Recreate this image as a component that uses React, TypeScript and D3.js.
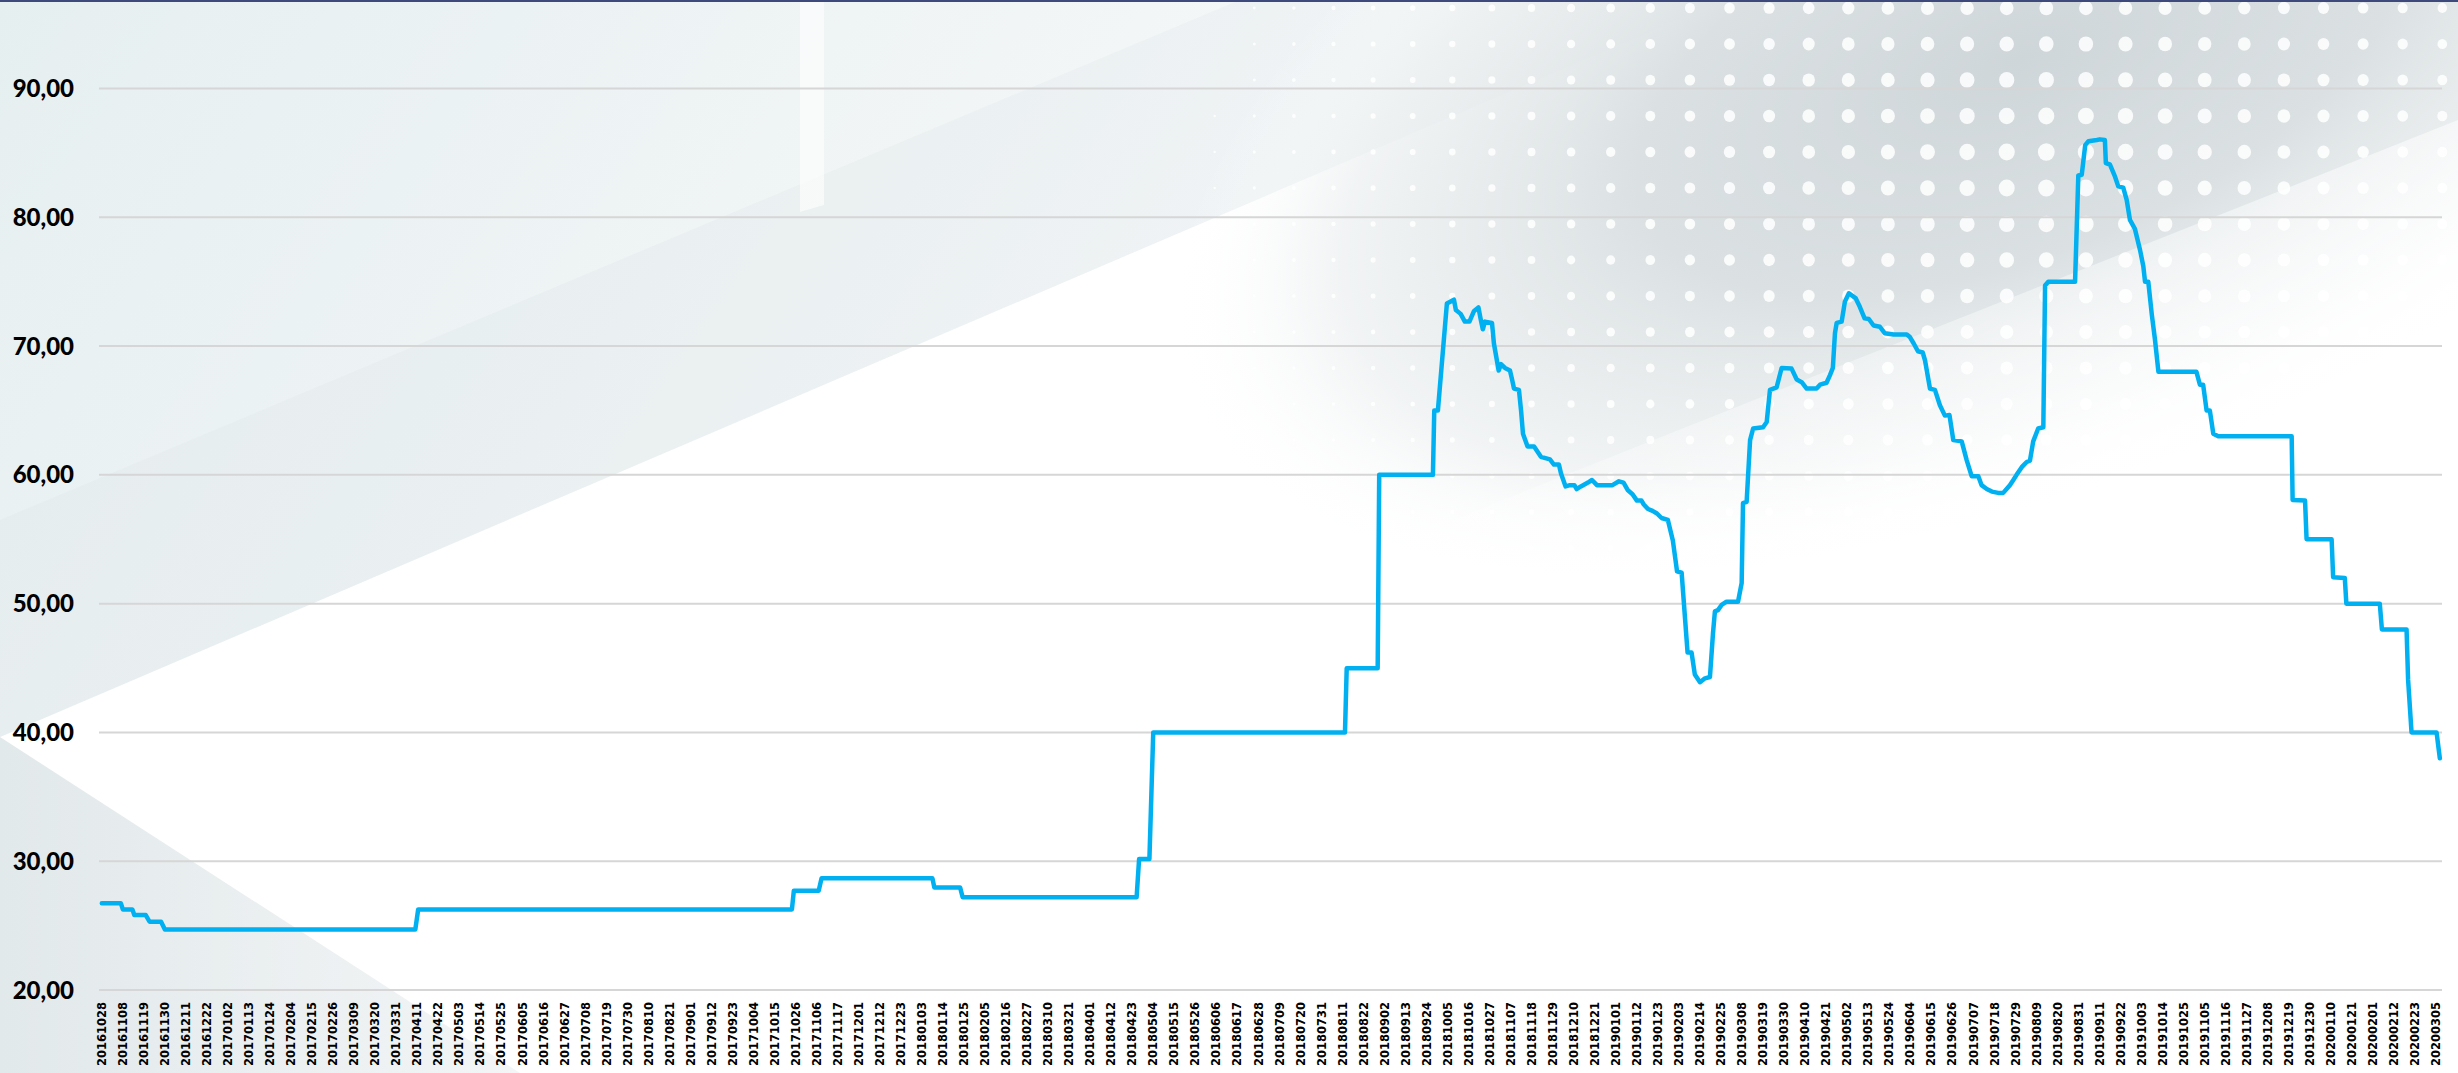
import { useEffect, useRef } from 'react';
import * as d3 from 'd3';

// value axis ticks
const yTicks = [20, 30, 40, 50, 60, 70, 80, 90];

// category labels, one every 11 categories
const dateLabels = [
  '20161028', '20161108', '20161119', '20161130', '20161211', '20161222',
  '20170102', '20170113', '20170124', '20170204', '20170215', '20170226', '20170309', '20170320',
  '20170331', '20170411', '20170422', '20170503', '20170514', '20170525', '20170605', '20170616',
  '20170627', '20170708', '20170719', '20170730', '20170810', '20170821', '20170901', '20170912',
  '20170923', '20171004', '20171015', '20171026', '20171106', '20171117', '20171201', '20171212',
  '20171223',
  '20180103', '20180114', '20180125', '20180205', '20180216', '20180227', '20180310', '20180321',
  '20180401', '20180412', '20180423', '20180504', '20180515', '20180526', '20180606', '20180617',
  '20180628', '20180709', '20180720', '20180731', '20180811', '20180822', '20180902', '20180913',
  '20180924', '20181005', '20181016', '20181027', '20181107', '20181118', '20181129', '20181210',
  '20181221',
  '20190101', '20190112', '20190123', '20190203', '20190214', '20190225', '20190308', '20190319',
  '20190330', '20190410', '20190421', '20190502', '20190513', '20190524', '20190604', '20190615',
  '20190626', '20190707', '20190718', '20190729', '20190809', '20190820', '20190831', '20190911',
  '20190922', '20191003', '20191014', '20191025', '20191105', '20191116', '20191127', '20191208',
  '20191219', '20191230',
  '20200110', '20200121', '20200201', '20200212', '20200223', '20200305',
];
const STEP = 11;

// price series as [category index, value]
const price: [number, number][] = [
  [0, 26.73], [10, 26.73], [11, 26.26], [16, 26.26], [17, 25.82], [23, 25.82], [25, 25.3], [31, 25.3],
  [33, 24.7], [164, 24.7], [165.5, 26.26], [361, 26.26], [362, 27.7], [375, 27.7], [376.5, 28.67],
  [434.5, 28.67], [435.5, 27.95], [449, 27.95], [450.3, 27.2], [541.3, 27.2], [542.6, 30.17],
  [548, 30.17], [550, 40], [650.3, 40], [651.2, 44.98], [667.4, 44.98], [668.2, 60], [696.3, 60],
  [697, 65], [698.9, 65], [703.6, 73.3], [707.3, 73.6], [708.3, 72.8], [710.8, 72.5], [713, 71.9],
  [715.4, 71.9], [717.7, 72.7], [720.1, 73.0], [721.4, 72.0], [722.4, 71.3], [723.5, 71.9],
  [727.2, 71.8], [728.2, 70.2], [730.7, 68.1], [731.9, 68.6], [734, 68.3], [736.6, 68.1],
  [737.7, 67.4], [738.7, 66.7], [741.3, 66.6], [742.4, 65.0], [743.4, 63.2], [745.8, 62.2],
  [749.2, 62.2], [752.8, 61.4], [757.5, 61.2], [759.6, 60.8], [762.2, 60.8], [763.3, 60.1],
  [765.7, 59.1], [768, 59.2], [770.3, 59.2], [771.5, 58.9], [773.7, 59.1], [777.4, 59.4],
  [779.5, 59.6], [782.1, 59.2], [790.2, 59.2], [793.6, 59.5], [796, 59.4], [798.3, 58.8],
  [800.7, 58.5], [803, 58.0], [805.4, 58.0], [806.6, 57.7], [808.8, 57.35], [811.2, 57.2],
  [813.5, 57.0], [815.9, 56.65], [819.2, 56.5], [821.8, 54.9], [824, 52.5], [826.4, 52.4],
  [829.5, 46.2], [831.6, 46.2], [833.3, 44.5], [836, 43.9], [838.6, 44.2], [841.2, 44.3],
  [842.8, 47.7], [843.8, 49.4], [845.4, 49.5], [847.3, 49.9], [849.9, 50.15], [855.9, 50.15],
  [857.8, 51.6], [858.5, 57.8], [860.4, 57.9], [862.2, 62.7], [863.8, 63.6], [869, 63.7],
  [870.9, 64.1], [872.6, 66.6], [876.1, 66.8], [878.7, 68.3], [883.9, 68.25], [886.6, 67.4],
  [889.2, 67.2], [891.8, 66.7], [897, 66.7], [898.8, 67.0], [902.2, 67.15], [904, 67.75],
  [905.5, 68.3], [906.6, 71.0], [907.5, 71.8], [910.1, 71.9], [911.8, 73.45], [913.9, 74.1],
  [917.5, 73.7], [919.6, 73.05], [922.1, 72.15], [924.3, 72.1], [926.8, 71.6], [930.1, 71.5],
  [932.6, 71.0], [937.3, 70.9], [944.2, 70.9], [945.8, 70.7], [947.8, 70.2], [950, 69.6],
  [952.5, 69.5], [953.7, 68.9], [956.3, 66.7], [958.9, 66.6], [961.5, 65.4], [964.1, 64.6],
  [966.5, 64.65], [968.5, 62.7], [972.9, 62.6], [975.5, 61.15], [978.1, 59.9], [981.6, 59.9],
  [983.3, 59.2], [986, 58.9], [988.7, 58.7], [992, 58.6], [994.6, 58.6], [998.1, 59.2],
  [999.9, 59.6], [1001.6, 60.0], [1004.3, 60.6], [1006.9, 61.0], [1008.6, 61.1], [1010.3, 62.6],
  [1012.9, 63.6], [1015.6, 63.7], [1016.5, 74.7], [1018.2, 75.0], [1032.2, 75.0], [1033.9, 83.25],
  [1035.7, 83.3], [1037.5, 85.6], [1039.2, 85.9], [1043.6, 86.0], [1045.2, 86.05], [1047.8, 86.0],
  [1048.3, 84.2], [1050.4, 84.1], [1053.1, 83.15], [1054.8, 82.4], [1057.4, 82.3], [1059.2, 81.35],
  [1060.9, 79.8], [1063.5, 79.1], [1066.2, 77.45], [1067.9, 76.2], [1068.8, 75.0], [1070.5, 75.0],
  [1072.3, 72.5], [1074, 70.5], [1075.8, 68.0], [1095.7, 68.0], [1097.5, 67.0], [1099.2, 67.0],
  [1101, 65.0], [1102.7, 65.0], [1104.5, 63.2], [1107.1, 63.0], [1145.5, 63.0], [1146, 58.05],
  [1152.5, 58.0], [1153.3, 55.0], [1166.4, 55.0], [1167.2, 52.05], [1173.3, 52.0], [1174.1, 50.0],
  [1191.6, 50.0], [1192.7, 48.0], [1205.6, 48.0], [1206.4, 44.1], [1208.2, 40.0], [1221.3, 40.0],
  [1223, 38.0],
];

export default function App() {
  const svgRef = useRef(null);

  useEffect(() => {
    if (!svgRef.current) return;
    const width = 2458;
    const height = 1073;
    const svg = d3.select(svgRef.current);
    svg.selectAll('*').remove();

    const x = d3.scaleLinear()
      .domain([0, (dateLabels.length - 1) * STEP])
      .range([101.8, 2436]);
    const y = d3.scaleLinear()
      .domain([20, 90])
      .range([990, 88.5]);

    // background decoration (soft slide-style artwork)
    const defs = svg.append('defs');
    const teal = defs.append('linearGradient').attr('id', 'teal')
      .attr('x1', 0).attr('y1', 0).attr('x2', 1).attr('y2', 0.3);
    teal.append('stop').attr('offset', 0).attr('stop-color', '#e6eff0');
    teal.append('stop').attr('offset', 0.55).attr('stop-color', '#f1f5f6');
    teal.append('stop').attr('offset', 1).attr('stop-color', '#fbfcfc');

    const corner = defs.append('linearGradient').attr('id', 'corner')
      .attr('x1', 0).attr('y1', 0).attr('x2', 1).attr('y2', 0);
    corner.append('stop').attr('offset', 0).attr('stop-color', '#e2e9eb');
    corner.append('stop').attr('offset', 1).attr('stop-color', '#f3f5f6');

    const grey = defs.append('radialGradient').attr('id', 'grey')
      .attr('gradientUnits', 'userSpaceOnUse')
      .attr('cx', 0).attr('cy', 0).attr('r', 1)
      .attr('gradientTransform', 'translate(2020,60) rotate(-22) scale(900,430)');
    grey.append('stop').attr('offset', 0).attr('stop-color', '#cfd6d9');
    grey.append('stop').attr('offset', 0.45).attr('stop-color', '#dbe1e3');
    grey.append('stop').attr('offset', 0.8).attr('stop-color', '#eef1f2').attr('stop-opacity', 0.8);
    grey.append('stop').attr('offset', 1).attr('stop-color', '#ffffff').attr('stop-opacity', 0);

    const streak = defs.append('linearGradient').attr('id', 'streak')
      .attr('gradientUnits', 'userSpaceOnUse')
      .attr('x1', 1700).attr('y1', 200).attr('x2', 1900).attr('y2', 560);
    streak.append('stop').attr('offset', 0).attr('stop-color', '#ffffff').attr('stop-opacity', 0);
    streak.append('stop').attr('offset', 1).attr('stop-color', '#ffffff').attr('stop-opacity', 0.75);

    const bg = svg.append('g');
    bg.append('rect').attr('width', width).attr('height', height).attr('fill', '#ffffff');
    bg.append('path').attr('d', 'M0,0 L1724,0 L0,737 Z').attr('fill', 'url(#teal)');
    bg.append('path').attr('d', 'M0,520 L1240,0 L1724,0 L0,737 Z')
      .attr('fill', '#dbe5e7').attr('opacity', 0.25);
    bg.append('path').attr('d', 'M0,737 L0,1073 L520,1073 Z').attr('fill', 'url(#corner)');
    bg.append('path').attr('d', 'M800,0 L824,0 L824,205 L800,212 Z')
      .attr('fill', '#ffffff').attr('opacity', 0.6);
    bg.append('rect').attr('width', width).attr('height', height).attr('fill', 'url(#grey)');
    bg.append('path').attr('d', 'M1000,1073 L1000,700 L2458,120 L2458,1073 Z')
      .attr('fill', 'url(#streak)');

    // dot grid, top right
    const cols = d3.range(-8, 29).map(i => 1333.5 + i * 39.6);
    const rows = d3.range(-3, 24).map(j => 116 + j * 36);
    const dots = [];
    cols.forEach(cx => rows.forEach(cy => {
      const dist = Math.hypot(cx - 2050, (cy - 160) * 1.2);
      const r = 8.5 - dist / 115;
      if (r > 1.2) dots.push({ cx, cy, r });
    }));
    bg.append('g').selectAll('ellipse').data(dots).enter().append('ellipse')
      .attr('cx', d => d.cx).attr('cy', d => d.cy)
      .attr('rx', d => d.r).attr('ry', d => d.r * 1.05)
      .attr('fill', '#ffffff').attr('opacity', 0.85);

    bg.append('rect').attr('width', width).attr('height', 2).attr('fill', '#3e4a7c');

    // gridlines
    svg.append('g').selectAll('line').data(yTicks).enter().append('line')
      .attr('x1', 99).attr('x2', 2442)
      .attr('y1', d => y(d)).attr('y2', d => y(d))
      .attr('stroke', '#d6d6d6').attr('stroke-width', 2);

    // value labels
    svg.append('g').selectAll('text').data(yTicks).enter().append('text')
      .attr('x', 74).attr('y', d => y(d))
      .attr('text-anchor', 'end').attr('dy', '0.36em')
      .style('font-family', 'Lato, "Open Sans", sans-serif')
      .style('font-weight', 900).style('font-size', '24px')
      .attr('fill', '#000000')
      .text(d => d3.format('.2f')(d).replace('.', ','));

    // date labels
    svg.append('g').selectAll('text').data(dateLabels).enter().append('text')
      .attr('transform', (d, i) => `translate(${x(i * STEP)},1002) rotate(-90)`)
      .attr('text-anchor', 'end').attr('dy', '0.36em')
      .style('font-family', '"DejaVu Sans", sans-serif')
      .style('font-weight', 700).style('font-size', '11.5px')
      .attr('fill', '#000000')
      .text(d => d);

    // price line
    const line = d3.line<[number, number]>()
      .x(d => x(d[0]))
      .y(d => y(d[1]));
    svg.append('path')
      .datum(price)
      .attr('d', line)
      .attr('fill', 'none')
      .attr('stroke', '#00b0f0')
      .attr('stroke-width', 4.5)
      .attr('stroke-linejoin', 'round')
      .attr('stroke-linecap', 'round');
  }, []);

  return (
    <svg
      ref={svgRef}
      width={2458}
      height={1073}
      style={{ position: 'absolute', left: 0, top: 0, display: 'block' }}
    />
  );
}
